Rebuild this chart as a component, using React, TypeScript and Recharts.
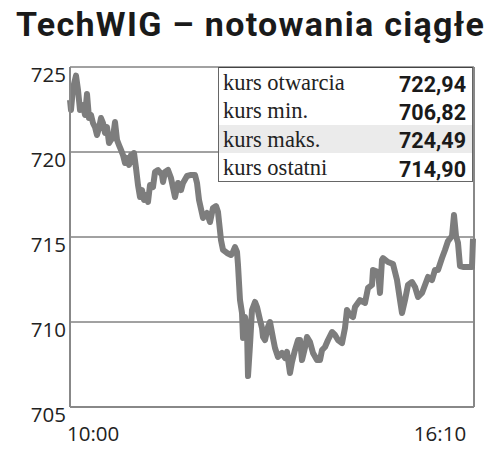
import React from "react";
import { LineChart, Line, XAxis, YAxis, CartesianGrid, ReferenceLine } from "recharts";

const minutes = [0,1,3,6,8,10,13,15,17,19,21,23,25,27,29,31,33,35,37,39,41,43,45,47,49,51,53,55,57,59,61,63,64,66,68,70,72,74,76,78,80,83,85,88,92,93,95,98,101,105,108,111,113,117,121,125,127,129,133,137,140,143,146,148,151,153,157,161,163,165,167,168,170,172,173,175,177,178,180,182,185,187,190,192,193,195,198,200,203,205,208,212,215,217,220,222,225,228,230,232,235,237,240,243,247,250,252,255,258,262,265,268,272,275,277,280,283,285,290,295,298,302,303,308,310,312,313,318,323,327,330,332,335,338,342,345,348,352,355,358,362,365,368,372,375,378,382,384,386,388,390,393,397,402,403];
const values = [723.06,722.47,723.76,724.49,723.65,722.47,722.76,722.18,723.41,722.0,722.18,721.7,721.47,721.0,721.41,722.0,721.7,721.12,721.47,720.53,720.71,720.88,721.76,720.71,720.41,720.12,719.82,719.35,719.65,719.24,719.82,719.41,719.94,719.06,718.06,717.35,717.76,717.18,717.47,717.06,718.06,717.94,718.82,718.94,718.65,718.24,718.82,718.94,718.47,717.35,718.18,717.76,718.18,718.59,718.65,718.65,718.18,717.18,716.12,716.41,715.88,716.71,716.82,716.47,714.82,714.24,714.06,713.94,714.12,714.41,714.12,713.35,711.29,710.53,709.06,710.29,709.53,706.82,708.65,710.71,711.18,710.88,710.12,709.65,709.12,708.94,709.71,710.0,709.06,708.47,707.94,708.18,707.88,708.24,707.0,707.65,708.35,708.94,708.94,707.76,708.5,709.12,708.82,708.18,707.76,707.76,708.35,708.53,708.94,709.41,709.24,708.94,708.76,709.65,710.71,710.41,710.29,710.88,711.29,711.12,712.0,712.18,713.06,712.94,711.71,713.65,713.76,713.53,713.41,712.47,711.29,710.53,711.29,712.18,712.35,712.06,711.47,711.71,712.18,712.65,712.47,713.06,713.06,713.76,714.24,714.76,715.06,716.29,715.06,714.65,713.29,713.24,713.24,713.24,714.9];

const xTicks = [0, 370];
const xTickLabels = ["10:00", "16:10"];
const yTicks = [705, 710, 715, 720, 725];

const statLabels = ["kurs otwarcia", "kurs min.", "kurs maks.", "kurs ostatni"];
const statValues = ["722,94", "706,82", "724,49", "714,90"];

const title = "TechWIG – notowania ciągłe";

const data = minutes.map((m, i) => ({ t: m, v: values[i] }));

const YTick = (props: any) => {
  const { y, payload } = props;
  return (
    <text x={66} y={y + 7} textAnchor="end" dominantBaseline="central" fontFamily="Open Sans" fontSize={20.5} fill="#222">
      {payload.value}
    </text>
  );
};

const XTick = (props: any) => {
  const { x, payload, index } = props;
  const anchor = index === 0 ? "start" : "middle";
  return (
    <text x={index === 0 ? x - 3 : x} y={433} textAnchor={anchor} dominantBaseline="central" fontFamily="Open Sans" fontSize={20.5} fill="#222">
      {xTickLabels[xTicks.indexOf(payload.value)]}
    </text>
  );
};

export default function App() {
  return (
    <div style={{ position: "absolute", left: 0, top: 0, width: 500, height: 452, background: "#fff" }}>
      <div style={{ position: "absolute", left: 16, top: 4, fontFamily: "Roboto", fontWeight: 700, fontSize: 34, letterSpacing: 1.3, color: "#1a1a1a", whiteSpace: "nowrap", lineHeight: "40px" }}>
        {title}
      </div>
      <LineChart width={500} height={452} data={data} margin={{ top: 67, right: 26, left: 10, bottom: 0 }}>
        <CartesianGrid vertical={false} stroke="#444" strokeWidth={1} />
        <XAxis dataKey="t" type="number" domain={[0, 404]} ticks={xTicks} height={45} tickLine={false} axisLine={{ stroke: "#888", strokeWidth: 2 }} tick={<XTick />} interval={0} />
        <YAxis type="number" domain={[705, 725]} ticks={yTicks} width={60} tickLine={false} axisLine={{ stroke: "#888", strokeWidth: 2 }} tick={<YTick />} interval={0} />
        <ReferenceLine x={404} stroke="#888" strokeWidth={2} />
        <Line type="linear" dataKey="v" stroke="#7d7d7d" strokeWidth={6} dot={false} isAnimationActive={false} strokeLinejoin="round" />
      </LineChart>
      <div style={{ position: "absolute", left: 218, top: 67, width: 255, height: 115, background: "#fff", borderLeft: "1px solid #666", borderRight: "1px solid #666", borderBottom: "1px solid #666", borderTop: "1px solid #444", boxSizing: "border-box" }}>
        {statLabels.map((l, i) => (
          <div key={l} style={{ display: "flex", justifyContent: "space-between", alignItems: "center", height: 28.3, padding: "0 6px 0 4px", background: i === 2 ? "#ebebeb" : "transparent" }}>
            <span style={{ fontFamily: "Liberation Serif", fontSize: 22.5, color: "#222", fontWeight: 400, position: "relative", top: 1 }}>{l}</span>
            <span style={{ fontFamily: "Roboto", fontWeight: 700, fontSize: 21.5, color: "#1a1a1a", position: "relative", top: 2 }}>{statValues[i]}</span>
          </div>
        ))}
      </div>
    </div>
  );
}
